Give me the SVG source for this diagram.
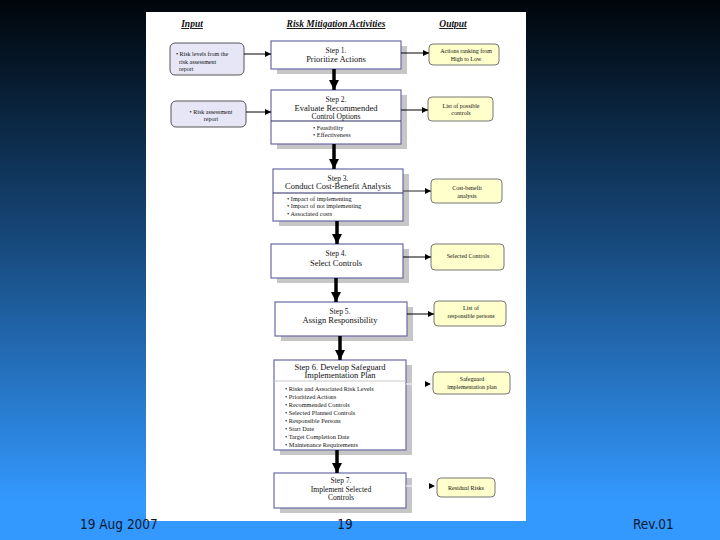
<svg xmlns="http://www.w3.org/2000/svg" width="720" height="540" viewBox="0 0 720 540">
<defs>
<linearGradient id="bg" x1="0" y1="0" x2="0" y2="540" gradientUnits="userSpaceOnUse">
<stop offset="0" stop-color="#00050a"/>
<stop offset="0.45" stop-color="#17497c"/>
<stop offset="0.93" stop-color="#3399ff"/>
<stop offset="1" stop-color="#3399ff"/>
</linearGradient>
<marker id="big" markerUnits="userSpaceOnUse" markerWidth="12" markerHeight="10" refX="10" refY="5" orient="auto">
<path d="M0,0 L10,5 L0,10 Z" fill="#000"/>
</marker>
<marker id="small" markerUnits="userSpaceOnUse" markerWidth="7" markerHeight="6" refX="6" refY="3" orient="auto">
<path d="M0,0 L6,3 L0,6 Z" fill="#000"/>
</marker>
</defs>
<style>
.step{fill:#fff;stroke:#6a6aa8;stroke-width:1.2}
.shadow{fill:#c6c6c6}
.in{fill:#e6e6f6;stroke:#555;stroke-width:1}
.out{fill:#ffffcc;stroke:#777;stroke-width:1}
text{font-family:"Liberation Serif","Times New Roman",serif;fill:#111}
.hd{font-size:9.5px;font-style:italic;font-weight:bold;text-decoration:underline;text-anchor:middle}
.num{font-size:7.5px;text-anchor:middle}
.ttl{font-size:8.5px;text-anchor:middle}
.ttl2{font-size:7.6px;text-anchor:middle}
.bl{font-size:6.3px}
.sm{font-size:6px}
.smc{font-size:6px;text-anchor:middle}
.ft{font-family:"DejaVu Sans Condensed","DejaVu Sans",sans-serif;font-size:13.5px;fill:#0c1830}
.thick{stroke:#000;stroke-width:3.5;fill:none}
.thin{stroke:#000;stroke-width:1;fill:none}
</style>
<rect width="720" height="540" fill="url(#bg)"/>
<rect x="146" y="12" width="380" height="509" fill="#fff"/>

<g id="headers">
<text class="hd" x="192" y="27">Input</text>
<text class="hd" x="336" y="27">Risk Mitigation Activities</text>
<text class="hd" x="453" y="27">Output</text>
</g>

<g id="input1">
<rect class="in" x="170" y="43" width="74" height="32" rx="5"/>
<text class="sm" x="176" y="56">• Risk levels from the</text>
<text class="sm" x="179" y="63.5">risk assessment</text>
<text class="sm" x="179" y="71">report</text>
</g>
<g id="input2">
<rect class="in" x="171" y="101" width="75" height="26" rx="5"/>
<text class="smc" x="211" y="113.5">• Risk assessment</text>
<text class="smc" x="211" y="121">report</text>
</g>

<g id="step1">
<rect class="shadow" x="277" y="46" width="130" height="28"/>
<rect class="step" x="271" y="41" width="130" height="28"/>
<text class="num" x="336" y="52.5">Step 1.</text>
<text class="ttl" x="336" y="62">Prioritize Actions</text>
</g>
<g id="step2">
<rect class="shadow" x="277" y="95" width="130" height="54"/>
<rect class="step" x="271" y="90" width="130" height="54"/>
<line x1="271" y1="121" x2="401" y2="121" stroke="#2a2a60" stroke-width="1"/>
<text class="num" x="336" y="102">Step 2.</text>
<text class="ttl" x="336" y="110.5">Evaluate Recommended</text>
<text class="ttl2" x="336" y="118.5">Control Options</text>
<text class="bl" x="313" y="130">• Feasibility</text>
<text class="bl" x="313" y="137">• Effectiveness</text>
</g>
<g id="step3">
<rect class="shadow" x="279" y="174" width="130" height="52"/>
<rect class="step" x="273" y="169" width="130" height="52"/>
<line x1="273" y1="193" x2="403" y2="193" stroke="#2a2a60" stroke-width="1"/>
<text class="num" x="338" y="180.5">Step 3.</text>
<text class="ttl" x="338" y="189">Conduct Cost-Benefit Analysis</text>
<text class="bl" x="287" y="200.5">• Impact of implementing</text>
<text class="bl" x="287" y="208">• Impact of not implementing</text>
<text class="bl" x="287" y="215.5">• Associated costs</text>
</g>
<g id="step4">
<rect class="shadow" x="277" y="249" width="132" height="34"/>
<rect class="step" x="271" y="244" width="132" height="34"/>
<text class="num" x="336" y="255.5">Step 4.</text>
<text class="ttl" x="336" y="265.5">Select Controls</text>
</g>
<g id="step5">
<rect class="shadow" x="281" y="307" width="132" height="34"/>
<rect class="step" x="275" y="302" width="132" height="34"/>
<text class="num" x="340" y="313.5">Step 5.</text>
<text class="ttl" x="340" y="323">Assign Responsibility</text>
</g>
<g id="step6">
<rect class="shadow" x="280" y="365" width="132" height="90"/>
<rect class="step" x="274" y="360" width="132" height="90"/>
<line x1="274" y1="381" x2="406" y2="381" stroke="#c8c8c8" stroke-width="1"/>
<text class="ttl" x="340" y="369.5">Step 6. Develop Safeguard</text>
<text class="ttl" x="340" y="378">Implementation Plan</text>
<text class="bl" x="285" y="391">• Risks and Associated Risk Levels</text>
<text class="bl" x="285" y="398.5">• Prioritized Actions</text>
<text class="bl" x="285" y="406.5">• Recommended Controls</text>
<text class="bl" x="285" y="414.5">• Selected Planned Controls</text>
<text class="bl" x="285" y="422.5">• Responsible Persons</text>
<text class="bl" x="285" y="430.5">• Start Date</text>
<text class="bl" x="285" y="438.5">• Target Completion Date</text>
<text class="bl" x="285" y="446.5">• Maintenance Requirements</text>
</g>
<g id="step7">
<rect class="shadow" x="280" y="478" width="132" height="35"/>
<rect class="step" x="274" y="473" width="132" height="35"/>
<text class="num" x="341" y="482.5">Step 7.</text>
<text class="ttl2" x="341" y="492">Implement Selected</text>
<text class="ttl2" x="341" y="500">Controls</text>
</g>

<g id="output1">
<rect class="out" x="429" y="44" width="70" height="21" rx="4"/>
<text class="smc" x="466" y="53">Actions ranking from</text>
<text class="smc" x="466" y="60.5">High to Low</text>
</g>
<g id="output2">
<rect class="out" x="428" y="97" width="65" height="24" rx="4"/>
<text class="smc" x="461" y="107.5">List of possible</text>
<text class="smc" x="461" y="115">controls</text>
</g>
<g id="output3">
<rect class="out" x="431" y="179" width="71" height="24" rx="4"/>
<text class="smc" x="467" y="190">Cost-benefit</text>
<text class="smc" x="467" y="197.5">analysis</text>
</g>
<g id="output4">
<rect class="out" x="431" y="244" width="73" height="26" rx="4"/>
<text class="smc" x="468" y="258">Selected Controls</text>
</g>
<g id="output5">
<rect class="out" x="434" y="301" width="72" height="25" rx="4"/>
<text class="smc" x="471" y="310">List of</text>
<text class="smc" x="471" y="318">responsible persons</text>
</g>
<g id="output6">
<rect class="out" x="433" y="372" width="77" height="22" rx="4"/>
<text class="smc" x="472" y="381">Safeguard</text>
<text class="smc" x="472" y="388.5">implementation plan</text>
</g>
<g id="output7">
<rect class="out" x="437" y="478" width="58" height="19" rx="4"/>
<text class="smc" x="466" y="490">Residual Risks</text>
</g>

<g id="connectors">
<line class="thick" x1="334" y1="69" x2="334" y2="90" marker-end="url(#big)"/>
<line class="thick" x1="334" y1="144" x2="334" y2="169" marker-end="url(#big)"/>
<line class="thick" x1="337" y1="221" x2="337" y2="244" marker-end="url(#big)"/>
<line class="thick" x1="336" y1="278" x2="336" y2="302" marker-end="url(#big)"/>
<line class="thick" x1="340" y1="336" x2="340" y2="360" marker-end="url(#big)"/>
<line class="thick" x1="337" y1="450" x2="337" y2="473" marker-end="url(#big)"/>
<line class="thin" x1="244" y1="54" x2="271" y2="54" marker-end="url(#small)"/>
<line class="thin" x1="246" y1="112" x2="271" y2="112" marker-end="url(#small)"/>
<line class="thin" x1="401" y1="53" x2="429" y2="53" marker-end="url(#small)"/>
<line class="thin" x1="401" y1="110" x2="428" y2="110" marker-end="url(#small)"/>
<line x1="403" y1="191" x2="431" y2="191" stroke="#555" stroke-width="1.3" marker-end="url(#small)"/>
<line class="thin" x1="403" y1="257" x2="431" y2="257" marker-end="url(#small)"/>
<line class="thin" x1="407" y1="314" x2="434" y2="314" marker-end="url(#small)"/>
<line x1="406" y1="384" x2="431" y2="384" stroke="#fff" stroke-width="1" marker-end="url(#small)"/>
<line x1="406" y1="486" x2="435" y2="486" stroke="#fff" stroke-width="1" marker-end="url(#small)"/>
</g>

<g id="footer">
<text class="ft" x="80" y="529">19 Aug 2007</text>
<text class="ft" x="345" y="529" text-anchor="middle">19</text>
<text class="ft" x="633" y="529">Rev.01</text>
</g>
</svg>
